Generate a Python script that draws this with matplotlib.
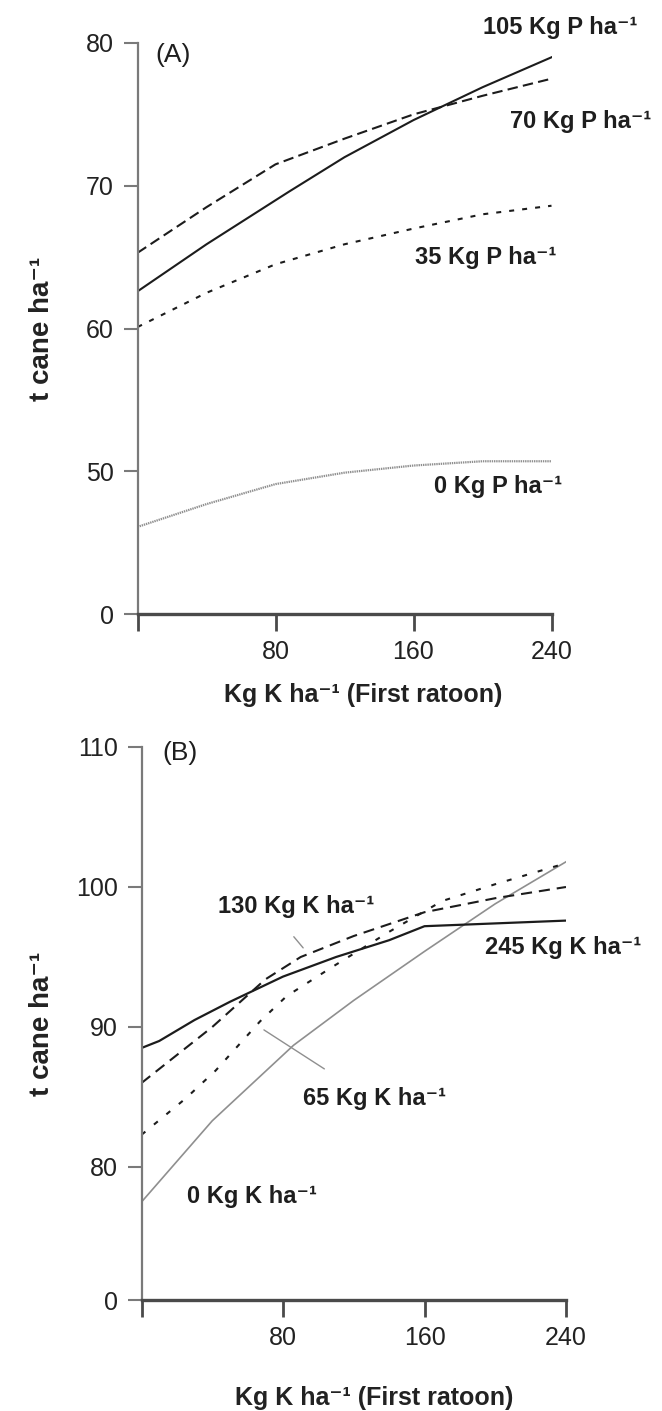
import numpy as np
import matplotlib
matplotlib.use('Agg')
import matplotlib.pyplot as plt

plt.rcParams['font.family'] = ['Liberation Sans', 'DejaVu Sans']
plt.rcParams['lines.scale_dashes'] = False

# ---------------- Panel A data (P rates, response to K) ----------------
p105_x = [0, 40, 88, 120, 160, 200, 240]
p105_y = [62.6, 65.9, 69.6, 72.0, 74.6, 76.9, 79.0]
p70_x = [0, 40, 80, 120, 160, 200, 240]
p70_y = [65.3, 68.5, 71.5, 73.3, 75.0, 76.3, 77.5]
p35_x = [0, 40, 80, 120, 160, 200, 240]
p35_y = [60.1, 62.5, 64.5, 65.9, 67.0, 68.0, 68.6]
p0_x = [0, 40, 80, 120, 160, 200, 240]
p0_y = [46.1, 47.7, 49.1, 49.9, 50.4, 50.7, 50.7]

# ---------------- Panel B data (K rates, response to K) ----------------
k245_x = [0, 10, 30, 50, 80, 110, 140, 160, 200, 240]
k245_y = [88.5, 89.0, 90.5, 91.8, 93.6, 95.0, 96.2, 97.2, 97.4, 97.6]
k130_x = [0, 20, 40, 70, 90, 120, 160, 200, 240]
k130_y = [86.0, 88.0, 90.0, 93.4, 95.0, 96.5, 98.2, 99.2, 100.0]
k65_x = [0, 25, 42, 67, 82, 108, 140, 170, 200, 240]
k65_y = [82.3, 84.9, 86.9, 90.4, 92.2, 94.3, 96.8, 99.0, 100.2, 101.7]
k0_x = [0, 40, 86, 120, 160, 200, 240]
k0_y = [77.5, 83.3, 88.7, 91.9, 95.4, 98.8, 101.8]

xticks = [0, 80, 160, 240]
xtick_labels = ['', '80', '160', '240']
yticks_a = [0, 50, 60, 70, 80]
yticks_b = [0, 80, 90, 100, 110]

SUP = '\u207b\u00b9'
labels_a = ['105 Kg P ha' + SUP, '70 Kg P ha' + SUP, '35 Kg P ha' + SUP, '0 Kg P ha' + SUP]
labels_b = ['245 Kg K ha' + SUP, '130 Kg K ha' + SUP, '65 Kg K ha' + SUP, '0 Kg K ha' + SUP]
xlabel = 'Kg K ha' + SUP + ' (First ratoon)'
ylabel = 't cane ha' + SUP

BLACK = '#1c1c1c'
GRAY = '#8f8f8f'


def broken(lo_break, lo_pos):
    """Scale: linear above lo_break, compressed [0, lo_break] -> [lo_pos, lo_break]."""
    k = (lo_break - lo_pos) / lo_break

    def fwd(y):
        y = np.asarray(y, dtype=float)
        return np.where(y >= lo_break, y, lo_pos + y * k)

    def inv(t):
        t = np.asarray(t, dtype=float)
        return np.where(t >= lo_break, t, (t - lo_pos) / k)
    return fwd, inv


fig = plt.figure(figsize=(6.62, 14.11), dpi=100)

axA = fig.add_axes([137.5 / 662, 1 - 614 / 1411, 414 / 662, (614 - 43) / 1411])
axB = fig.add_axes([141.5 / 662, 1 - 1300 / 1411, 424.5 / 662, (1300 - 747) / 1411])


def style_axes(ax, yticks, lab_x, lab_y, ylab_x):
    ax.set_xlim(0, 240)
    ax.set_ylim(yticks[0], yticks[-1])
    for s in ['top', 'right']:
        ax.spines[s].set_visible(False)
    ax.spines['left'].set_color('#7a7a7a')
    ax.spines['left'].set_linewidth(1.6)
    ax.spines['bottom'].set_color('#4a4a4a')
    ax.spines['bottom'].set_linewidth(2.4)
    ax.set_xticks(xticks, labels=xtick_labels)
    ax.set_yticks(yticks, labels=[str(t) for t in yticks])
    ax.yaxis.set_minor_locator(matplotlib.ticker.NullLocator())
    ax.xaxis.set_minor_locator(matplotlib.ticker.NullLocator())
    ax.tick_params(axis='y', length=10, width=1.5, color='#7a7a7a',
                   labelsize=18, pad=7, labelcolor='#222222')
    ax.tick_params(axis='x', length=12, width=2.0, color='#4a4a4a',
                   labelsize=18, pad=7, labelcolor='#222222')
    ax.set_xlabel(xlabel, fontsize=18, fontweight='bold', color='#222222')
    ax.xaxis.label.set_va('center')
    ax.xaxis.set_label_coords(lab_x, lab_y)
    ax.set_ylabel(ylabel, fontsize=20, fontweight='bold', color='#222222')
    ax.yaxis.label.set_va('center')
    ax.yaxis.set_label_coords(ylab_x, 0.5)


lab_kw = dict(fontsize=17, fontweight='bold', color='#1e1e1e', ha='left', va='center')

# ---------------- Panel A ----------------
fA, iA = broken(45, 40.0)
axA.set_yscale('function', functions=(fA, iA))
axA.plot(p0_x, p0_y, color=GRAY, lw=1.6, ls=(0, (1.0, 0.6)))
axA.plot(p35_x, p35_y, color=BLACK, lw=1.5, ls=(0, (3.6, 5.8)))
axA.plot(p70_x, p70_y, color=BLACK, lw=1.5, ls=(0, (7.5, 3.8)))
axA.plot(p105_x, p105_y, color=BLACK, lw=1.5)
style_axes(axA, yticks_a, 0.545, -0.142, -0.23)

axA.text(200.3, 81.1, labels_a[0], clip_on=False, **lab_kw)
axA.text(216, 74.5, labels_a[1], clip_on=False, **lab_kw)
axA.text(161, 65.0, labels_a[2], clip_on=False, **lab_kw)
axA.text(172, 48.9, labels_a[3], clip_on=False, **lab_kw)
axA.text(0.042, 1.0, '(A)', transform=axA.transAxes, fontsize=19,
         ha='left', va='top', color='#1e1e1e')

# ---------------- Panel B ----------------
fB, iB = broken(75, 70.5)
axB.set_yscale('function', functions=(fB, iB))
axB.plot(k0_x, k0_y, color=GRAY, lw=1.2)
axB.plot(k65_x, k65_y, color=BLACK, lw=1.5, ls=(0, (3.6, 8.0)))
axB.plot(k130_x, k130_y, color=BLACK, lw=1.5, ls=(0, (8.0, 5.0)))
axB.plot(k245_x, k245_y, color=BLACK, lw=1.6)
style_axes(axB, yticks_b, 0.548, -0.177, -0.234)

axB.text(194.2, 95.7, labels_b[0], **lab_kw)
axB.text(43.2, 98.6, labels_b[1], **lab_kw)
axB.text(91.3, 84.9, labels_b[2], **lab_kw)
axB.text(25.7, 77.9, labels_b[3], **lab_kw)
# leader lines from labels to curves
axB.annotate('', xy=(92.4, 95.5), xytext=(85.1, 96.6),
             arrowprops=dict(arrowstyle='-', color=GRAY, lw=1.0))
axB.annotate('', xy=(67.9, 89.9), xytext=(104.7, 86.9),
             arrowprops=dict(arrowstyle='-', color=GRAY, lw=1.0))
axB.text(0.05, 1.01, '(B)', transform=axB.transAxes, fontsize=19,
         ha='left', va='top', color='#1e1e1e')

fig.savefig('out.png', dpi=100, facecolor='white')
